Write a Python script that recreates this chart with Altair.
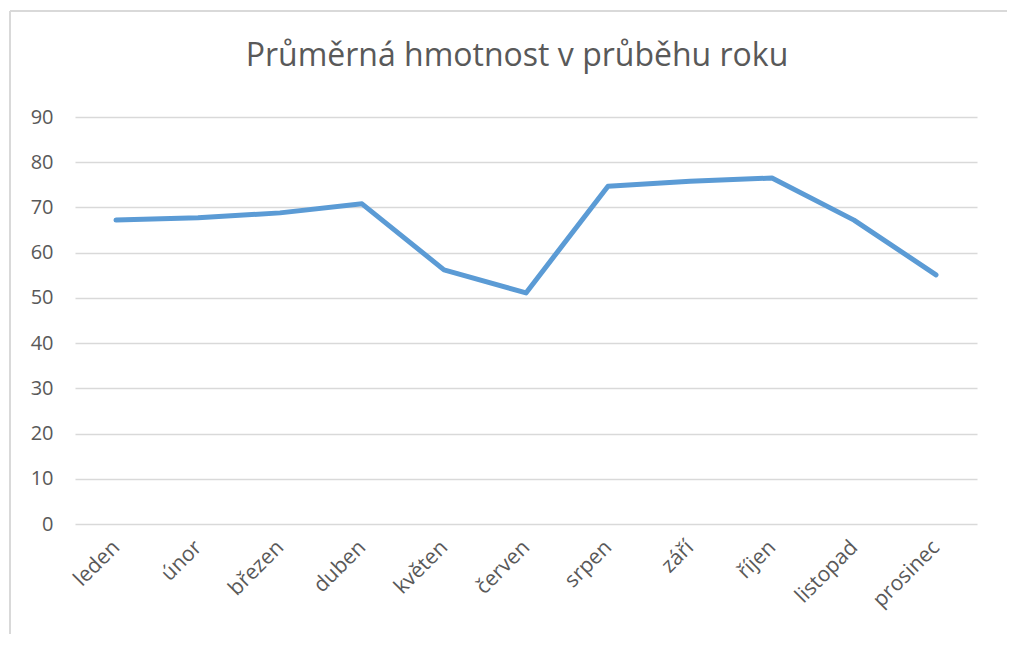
import altair as alt
import pandas as pd

months = ["leden", "únor", "březen", "duben", "květen", "červen",
          "srpen", "září", "říjen", "listopad", "prosinec"]
values = [67.2, 67.7, 68.8, 70.8, 56.2, 51.1, 74.7, 75.8, 76.5, 67.2, 55.1]
title_text = "Průměrná hmotnost v průběhu roku"

df = pd.DataFrame({"mesic": months, "hmotnost": values})

FONT = "Open Sans"
GREY = "#595959"
GRID = "#d9d9d9"

line = alt.Chart(df).mark_line(
    color="#5b9bd5", strokeWidth=5, strokeCap="round", strokeJoin="round"
).encode(
    x=alt.X("mesic:N", sort=months,
            scale=alt.Scale(type="point", padding=0.5),
            axis=alt.Axis(title=None, labelAngle=-45, labelAlign="right",
                          labelBaseline="middle", labelPadding=20,
                          labelFontSize=21, labelColor=GREY, labelFont=FONT,
                          domain=False, ticks=False, grid=False)),
    y=alt.Y("hmotnost:Q", scale=alt.Scale(domain=[0, 90], nice=False),
            axis=alt.Axis(title=None, values=list(range(0, 91, 10)),
                          labelPadding=22, labelFontSize=20, labelColor=GREY,
                          labelFont=FONT, domain=False, ticks=False,
                          grid=True, gridColor=GRID, gridWidth=1.5)),
)

frame_top = alt.Chart(df).mark_rule(color=GRID, strokeWidth=2).encode(
    x=alt.value(-65), x2=alt.value(1000), y=alt.value(-106))
frame_left = alt.Chart(df).mark_rule(color=GRID, strokeWidth=2).encode(
    x=alt.value(-65), y=alt.value(-106), y2=alt.value(700))

title = alt.Chart(pd.DataFrame({"t": [title_text]})).mark_text(
    font=FONT, fontSize=32, color=GREY, align="center", baseline="alphabetic"
).encode(text="t:N", x=alt.value(442), y=alt.value(-51))

chart = alt.layer(frame_top, frame_left, line, title).properties(
    width=902, height=407,
    autosize=alt.AutoSizeParams(type="none"),
    padding={"left": 67, "top": 109, "right": 30, "bottom": 110},
).configure_view(stroke=None)

chart.save("out.html", embed_options={"renderer": "svg", "actions": False})
